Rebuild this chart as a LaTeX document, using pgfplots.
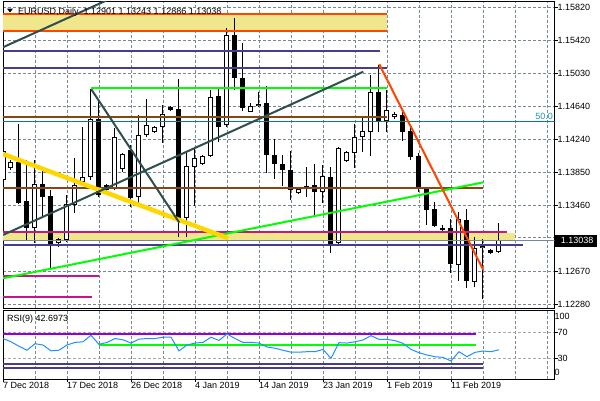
\documentclass[border=0pt]{standalone}
\usepackage{pgfplots}
\pgfplotsset{compat=1.18}
\usepackage{pgfplotstable}
\usepackage{fontspec}
\setmainfont{Liberation Sans}
\definecolor{gridc}{RGB}{119,136,153}
\definecolor{gridl}{RGB}{170,170,170}
\definecolor{orred}{RGB}{255,69,0}
\definecolor{khakic}{RGB}{240,230,140}
\definecolor{dsblue}{RGB}{72,61,139}
\definecolor{limec}{RGB}{0,255,0}
\definecolor{sbrown}{RGB}{139,69,19}
\definecolor{tealc}{RGB}{0,128,128}
\definecolor{mvred}{RGB}{199,21,133}
\definecolor{goldc}{RGB}{255,215,0}
\definecolor{dsgray}{RGB}{47,79,79}
\definecolor{dviolet}{RGB}{148,0,211}
\definecolor{dblue}{RGB}{30,144,255}
\definecolor{fibc}{RGB}{32,150,170}

\pgfplotstableread{
k o h l c
0 1.13758 1.14235 1.13603 1.14104
1 1.13901 1.13996 1.13877 1.13972
4 1.13186 1.13996 1.13007 1.13710
7 1.13007 1.13066 1.12959 1.13055
8 1.13043 1.13579 1.13019 1.13472
9 1.13460 1.14020 1.13364 1.13698
10 1.13734 1.14390 1.13722 1.13794
11 1.13794 1.14843 1.13758 1.14485
14 1.13662 1.14378 1.13639 1.14270
15 1.13889 1.14080 1.13853 1.14068
17 1.13555 1.14533 1.13436 1.14294
18 1.14294 1.14723 1.14270 1.14413
19 1.14330 1.14402 1.14318 1.14390
20 1.14390 1.14652 1.14199 1.14545
23 1.13305 1.14080 1.13078 1.13925
24 1.13913 1.14151 1.13448 1.14020
25 1.13949 1.14056 1.13937 1.14044
26 1.14044 1.14831 1.14032 1.14747
28 1.14413 1.15570 1.14390 1.15486
31 1.14568 1.14676 1.14568 1.14640
32 1.14640 1.14807 1.14628 1.14664
37 1.13603 1.13674 1.13591 1.13651
40 1.13615 1.13937 1.13484 1.13806
42 1.13007 1.14151 1.12995 1.14139
43 1.13984 1.14104 1.13972 1.14092
44 1.14080 1.14425 1.13901 1.14270
45 1.14270 1.14497 1.14092 1.14342
46 1.14330 1.15009 1.14044 1.14807
48 1.14461 1.14831 1.14330 1.14592
49 1.14509 1.14568 1.14485 1.14545
57 1.12745 1.13376 1.12554 1.13293
59 1.12542 1.13078 1.12482 1.12947
60 1.12947 1.13055 1.12339 1.12971
62 1.12901 1.13243 1.12886 1.13038
}\bull

\pgfplotstableread{
k o h l c
2 1.13972 1.14425 1.13472 1.13484
3 1.13508 1.13996 1.13043 1.13186
5 1.13710 1.13913 1.13317 1.13555
6 1.13567 1.13639 1.12697 1.12995
12 1.14485 1.14711 1.13555 1.13579
13 1.13698 1.13710 1.13615 1.13639
16 1.14115 1.14175 1.13436 1.13543
21 1.14628 1.14640 1.14580 1.14592
22 1.14604 1.14962 1.13078 1.13305
27 1.14759 1.14843 1.14211 1.14390
29 1.15486 1.15689 1.14831 1.14974
30 1.14974 1.15391 1.14580 1.14616
33 1.14676 1.14878 1.13841 1.14056
34 1.14056 1.14247 1.13770 1.13949
35 1.13949 1.14056 1.13686 1.13877
36 1.13877 1.14104 1.13519 1.13639
38 1.13686 1.13913 1.13555 1.13662
39 1.13698 1.13949 1.13341 1.13615
41 1.13794 1.13913 1.12888 1.12995
47 1.14807 1.15129 1.14330 1.14461
50 1.14533 1.14604 1.14223 1.14330
51 1.14342 1.14390 1.13996 1.14032
52 1.14044 1.14080 1.13615 1.13674
53 1.13662 1.13674 1.13221 1.13400
54 1.13412 1.13496 1.13198 1.13210
55 1.13186 1.13221 1.13150 1.13162
56 1.13186 1.13293 1.12649 1.12757
58 1.13281 1.13412 1.12470 1.12554
61 1.12923 1.12935 1.12876 1.12888
}\bear

\pgfplotstableread{
k r
0 60
1 55
2 48
3 42
4 52
5 50
6 41
7 42
8 50
9 54
10 55
11 65
12 51
13 54
14 60
15 58
16 53
17 59
18 60
19 60
20 62
21 62
22 41
23 50
24 53
25 54
26 62
27 57
28 67
29 60
30 54
31 54
32 53
33 47
34 45
35 42
36 39
37 39
38 39.7
39 39.7
40 43.3
41 29.5
42 53.6
43 53
44 55
45 57.7
46 64.4
47 58.7
48 58.7
49 56.7
50 52.6
51 43.3
52 38.2
53 34.6
54 32
55 31
56 25.4
57 39.7
58 32
59 38.7
60 40.8
61 39.7
62 42.7
}\rsi

\begin{document}
\begin{tikzpicture}[font=\fontsize{9}{10.8}\selectfont]
\useasboundingbox (0,0) rectangle (600pt,-400pt);
\fill[white] (0,0) rectangle (600pt,-400pt);
\begin{axis}[
  at={(3pt,-308pt)}, anchor=south west,
  scale only axis, width=551.5pt, height=307pt,
  xmin=0, xmax=68.94, ymin=1.122321, ymax=1.158915,
  axis line style={black, line width=1pt},
  tick label style={font=\fontsize{9}{10.8}\selectfont},
  xtick={0,4,...,68}, xticklabels={}, x tick style={draw=none},
  ytick={1.15820,1.15420,1.15030,1.14640,1.14240,1.13850,1.13460,1.13070,1.12670,1.12280},
  yticklabels={1.15820,1.15420,1.15030,1.14640,1.14240,1.13850,1.13460,{},1.12670,1.12280},
  ytick pos=right, yticklabel pos=right,
  tick align=outside, major tick length=3pt,
  y tick style={black, line width=0.8pt},
  yticklabel style={anchor=west, inner sep=0pt},
  grid=major, major grid style={gridc, dash pattern=on 3pt off 2pt, line width=0.8pt},
]
% rectangles
\addplot[fill=khakic, draw=none, forget plot] coordinates {(-1,1.15534) (48.04,1.15534) (48.04,1.15737) (-1,1.15737)} -- cycle;
\addplot[fill=khakic, draw=none, forget plot] coordinates {(-1,1.13037) (64,1.13037) (64,1.13132) (-1,1.13132)} -- cycle;
% wicks
\addplot[draw=none, mark=none, forget plot, error bars/.cd, y dir=plus, y explicit, error mark=none,
  error bar style={draw=black, line width=1pt}]
  table[x=k, y=l, y error plus expr={\thisrow{h}-\thisrow{l}}] {\bull};
\addplot[draw=none, mark=none, forget plot, error bars/.cd, y dir=plus, y explicit, error mark=none,
  error bar style={draw=black, line width=1pt}]
  table[x=k, y=l, y error plus expr={\thisrow{h}-\thisrow{l}}] {\bear};
% bodies
\addplot[draw=none, mark=none, forget plot, error bars/.cd, y dir=plus, y explicit, error mark=none,
  error bar style={draw=black, line width=5pt}]
  table[x=k, y=c, y error plus expr={\thisrow{o}-\thisrow{c}}] {\bear};
\addplot[draw=none, mark=none, forget plot, error bars/.cd, y dir=plus, y explicit, error mark=none,
  error bar style={draw=black, line width=5pt}]
  table[x=k, y=o, y error plus expr={\thisrow{c}-\thisrow{o}}] {\bull};
\addplot[draw=none, mark=none, forget plot, error bars/.cd, y dir=plus, y explicit, error mark=none,
  error bar style={draw=white, line width=3pt}]
  table[x=k, y expr={\thisrow{o}+0.000119}, y error plus expr={max(\thisrow{c}-\thisrow{o}-0.000238,0)}] {\bull};
% horizontal objects
\addplot[orred, line width=2pt] coordinates {(-1,1.15737) (48.04,1.15737)};
\addplot[orred, line width=2pt] coordinates {(-1,1.15534) (48.04,1.15534)};
\addplot[dsblue, line width=2pt] coordinates {(-1,1.15296) (47.1,1.15296)};
\addplot[dsblue, line width=2pt] coordinates {(-1,1.15093) (48.04,1.15093)};
\addplot[limec, line width=2pt] coordinates {(11,1.14854) (48.04,1.14854)};
\addplot[sbrown, line width=2pt] coordinates {(-1,1.14509) (48.04,1.14509)};
\addplot[tealc, line width=1pt] coordinates {(-1,1.14457) (70,1.14457)};
\addplot[sbrown, line width=2pt] coordinates {(-1,1.13666) (60.04,1.13666)};
\addplot[gridc, line width=1pt] coordinates {(-1,1.13038) (70,1.13038)};
\addplot[mvred, line width=2pt] coordinates {(-1,1.13142) (63.04,1.13142)};
\addplot[dsblue, line width=2pt] coordinates {(-1,1.12987) (65.04,1.12987)};
\addplot[mvred, line width=2pt] coordinates {(-1,1.12614) (12,1.12614)};
\addplot[mvred, line width=2pt] coordinates {(-1,1.12367) (11.1,1.12367)};
% trendlines
\addplot[limec, line width=2pt] coordinates {(0,1.12586) (60.04,1.13730)};
\addplot[goldc, line width=4.5pt] coordinates {(0,1.14068) (28.16,1.13063)};
\addplot[dsgray, line width=2pt] coordinates {(0,1.13103) (45.04,1.15049)};
\addplot[dsgray, line width=2pt] coordinates {(0,1.15340) (14,1.15944)};
\addplot[dsgray, line width=2pt] coordinates {(11.04,1.14839) (22.04,1.13249)};
\addplot[orred, line width=2pt] coordinates {(47.04,1.15137) (60.04,1.12685)};
\end{axis}

\begin{axis}[
  at={(3pt,-379pt)}, anchor=south west,
  scale only axis, width=551.5pt, height=69pt,
  xmin=0, xmax=68.94, ymin=-2.3, ymax=103.85,
  axis line style={black, line width=1pt},
  tick label style={font=\fontsize{9}{10.8}\selectfont},
  xtick={0,8,...,56},
  xticklabels={7 Dec 2018,17 Dec 2018,26 Dec 2018,4 Jan 2019,14 Jan 2019,23 Jan 2019,1 Feb 2019,11 Feb 2019},
  minor xtick={4,12,20,28,36,44,52,60,64,68},
  xtick pos=bottom,
  ytick={30,70}, yticklabels={30,70},
  ytick pos=right, yticklabel pos=right,
  extra y ticks={94.6,8.5}, extra y tick labels={100,0},
  extra y tick style={grid=none, major tick length=0pt},
  tick align=outside, major tick length=3pt, minor tick length=0pt,
  tick style={black, line width=0.8pt},
  xticklabel style={anchor=north west, inner sep=0pt},
  yticklabel style={anchor=west, inner sep=0pt},
  xmajorgrids, xminorgrids, ymajorgrids,
  x grid style={gridc, dash pattern=on 3pt off 2pt, line width=0.8pt},
  y grid style={gridl, dash pattern=on 3pt off 2pt, line width=0.8pt},
]
\addplot[dviolet, line width=2pt] coordinates {(-1,67) (59.1,67)};
\addplot[limec, line width=2pt] coordinates {(12,50.5) (59.1,50.5)};
\addplot[dsblue, line width=2pt] coordinates {(-1,21.2) (60.04,21.2)};
\addplot[dsblue, line width=2pt] coordinates {(-1,14.6) (60.04,14.6)};
\addplot[dblue, line width=1pt] table[x=k, y=r] {\rsi};
\end{axis}

% labels
\fill[black] (7pt,-8.5pt) -- (13pt,-8.5pt) -- (10pt,-12.5pt) -- cycle;
\node[anchor=base west, inner sep=0pt] at (18pt,-14pt) {EURUSD,Daily\ \ 1.12901 1.13243 1.12886 1.13038};
\node[anchor=base west, inner sep=0pt] at (7pt,-321.5pt) {RSI(9) 42.6973};
\node[anchor=base east, inner sep=0pt, text=fibc] at (553pt,-119.5pt) {50.0};
\fill[black] (555pt,-234.5pt) rectangle (597pt,-246.5pt);
\node[anchor=west, inner sep=0pt, text=white] at (560.7pt,-240.4pt) {1.13038};
\end{tikzpicture}
\end{document}
